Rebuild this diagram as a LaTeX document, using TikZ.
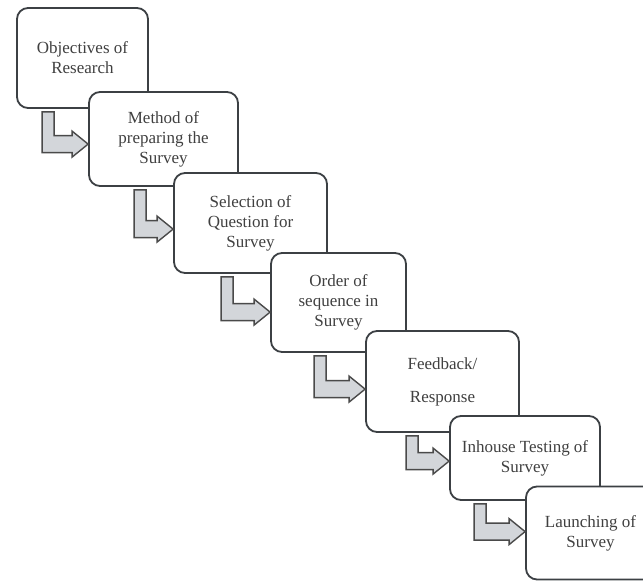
\documentclass[tikz,border=0pt]{standalone}
\usepackage{fontspec}
\setmainfont{Liberation Serif}
\usetikzlibrary{calc}

\definecolor{boxline}{HTML}{3C4044}
\definecolor{boxtext}{HTML}{404040}
\definecolor{arrowfill}{HTML}{D3D6DA}
\definecolor{arrowline}{HTML}{4A4A4A}

\tikzset{
    stage/.style={draw=boxline, line width=1.8pt, fill=white, rounded corners=11pt,
        align=center, text=boxtext, inner sep=2pt,
        font=\fontsize{17}{20}\selectfont},
    bentshape/.style={fill=arrowfill, draw=arrowline, line width=1.4pt, line join=miter},
}

% bent arrow: from box #1 (arm at #3 from its left) to the left side of box #2, #4 below its top
\newcommand{\bentarrow}[4]{%
    \path[bentshape] let \p1 = ($(#1.south west)+(#3,-3pt)$), \p2 = ($(#2.north west)+(0,-#4)$) in
        (\x1,\y1) -- (\x1+12pt,\y1) -- (\x1+12pt,\y2+8.5pt) -- (\x2-16pt,\y2+8.5pt)
        -- (\x2-16pt,\y2+13pt) -- (\x2,\y2) -- (\x2-16pt,\y2-13pt) -- (\x2-16pt,\y2-8.5pt)
        -- (\x1,\y2-8.5pt) -- cycle;}

\begin{document}
\begin{tikzpicture}[x=1pt, y=-1pt]
    \useasboundingbox (0,0) rectangle (643,581);
    \clip (0,0) rectangle (643,581);

    \node[stage, minimum width=131pt, minimum height=100pt] (obj) at (82.5,58) {Objectives of\\Research};
    \node[stage, minimum width=149pt, minimum height=94pt] (meth) at (163.5,139) {Method of\\preparing the\\Survey};
    \node[stage, minimum width=153pt, minimum height=100pt] (sel) at (250.5,223) {Selection of\\Question for\\Survey};
    \node[stage, minimum width=135pt, minimum height=99pt] (ord) at (338.5,302.5) {Order of\\sequence in\\Survey};
    \node[stage, minimum width=153pt, minimum height=101pt] (feed) at (442.5,381.5) {Feedback/\\[13pt]Response};
    \node[stage, minimum width=150pt, minimum height=84pt] (test) at (525,458) {Inhouse Testing of\\Survey};
    \node[stage, minimum width=129pt, minimum height=93pt] (launch) at (590.5,533) {Launching of\\Survey};

    \bentarrow{obj}{meth}{26pt}{53pt}
    \bentarrow{meth}{sel}{46pt}{57pt}
    \bentarrow{sel}{ord}{48pt}{60pt}
    \bentarrow{ord}{feed}{44pt}{59pt}
    \bentarrow{feed}{test}{41pt}{46pt}
    \bentarrow{test}{launch}{25pt}{46pt}
\end{tikzpicture}
\end{document}
